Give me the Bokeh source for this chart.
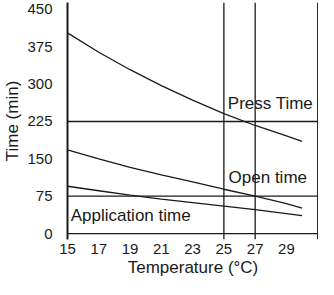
from bokeh.plotting import figure
from bokeh.models import Span, FixedTicker, Range1d
from bokeh.core.properties import value
from bokeh.embed import file_html
from bokeh.resources import INLINE

temps = [15, 17, 19, 21, 23, 25, 27, 29, 30]
press_time = [403, 364, 329, 297, 268, 241, 217, 196, 185]
open_time = [168, 150, 133, 118, 104, 89, 75, 60, 51]
application_time = [95, 86, 77, 69, 62, 55, 48, 40, 36]

x_ticks = [15, 17, 19, 21, 23, 25, 27, 29]
y_ticks = [0, 75, 150, 225, 300, 375, 450]
v_lines = [25, 27, 31]
h_lines = [0, 75, 225]

labels = ["Press Time", "Open time", "Application time"]
label_x = [25.25, 25.3, 15.2]
label_y = [262, 112, 37]

FONT = "Liberation Sans"
INK = "#1a1a1a"

p = figure(width=318, height=279, output_backend="svg", toolbar_location=None,
           x_range=Range1d(15, 31.05), y_range=Range1d(-11.9, 463.9),
           min_border_left=66, min_border_right=0, min_border_top=2, min_border_bottom=0)
p.grid.visible = False
p.outline_line_color = None

for series in (press_time, open_time, application_time):
    p.line(temps, series, line_color=INK, line_width=1.3)

for xv in v_lines:
    p.add_layout(Span(location=xv, dimension="height", line_color=INK, line_width=1.3))
for yv in h_lines:
    p.add_layout(Span(location=yv, dimension="width", line_color=INK, line_width=1.3))

p.text(label_x, label_y, text=labels, text_font=value(FONT), text_font_size="17px",
       text_baseline="middle", text_align="left", text_color=INK)

p.xaxis.ticker = FixedTicker(ticks=x_ticks)
p.yaxis.ticker = FixedTicker(ticks=y_ticks)
p.xaxis.axis_line_color = None
p.yaxis.axis_line_color = INK
p.yaxis.axis_line_width = 2
for ax in (p.xaxis, p.yaxis):
    ax.major_tick_line_color = None
    ax.minor_tick_line_color = None
    ax.major_tick_out = 0
    ax.major_tick_in = 0
    ax.major_label_text_font = FONT
    ax.major_label_text_font_size = "15px"
    ax.major_label_text_color = INK
    ax.axis_label_text_font = FONT
    ax.axis_label_text_font_size = "17px"
    ax.axis_label_text_font_style = "normal"
    ax.axis_label_text_color = INK

p.xaxis.axis_label = "Temperature (°C)"
p.yaxis.axis_label = "Time (min)"
p.xaxis.major_label_standoff = 4
p.xaxis.axis_label_standoff = 1
p.yaxis.major_label_standoff = 15
p.yaxis.axis_label_standoff = 2

open("out.html", "w").write(file_html(p, INLINE))
